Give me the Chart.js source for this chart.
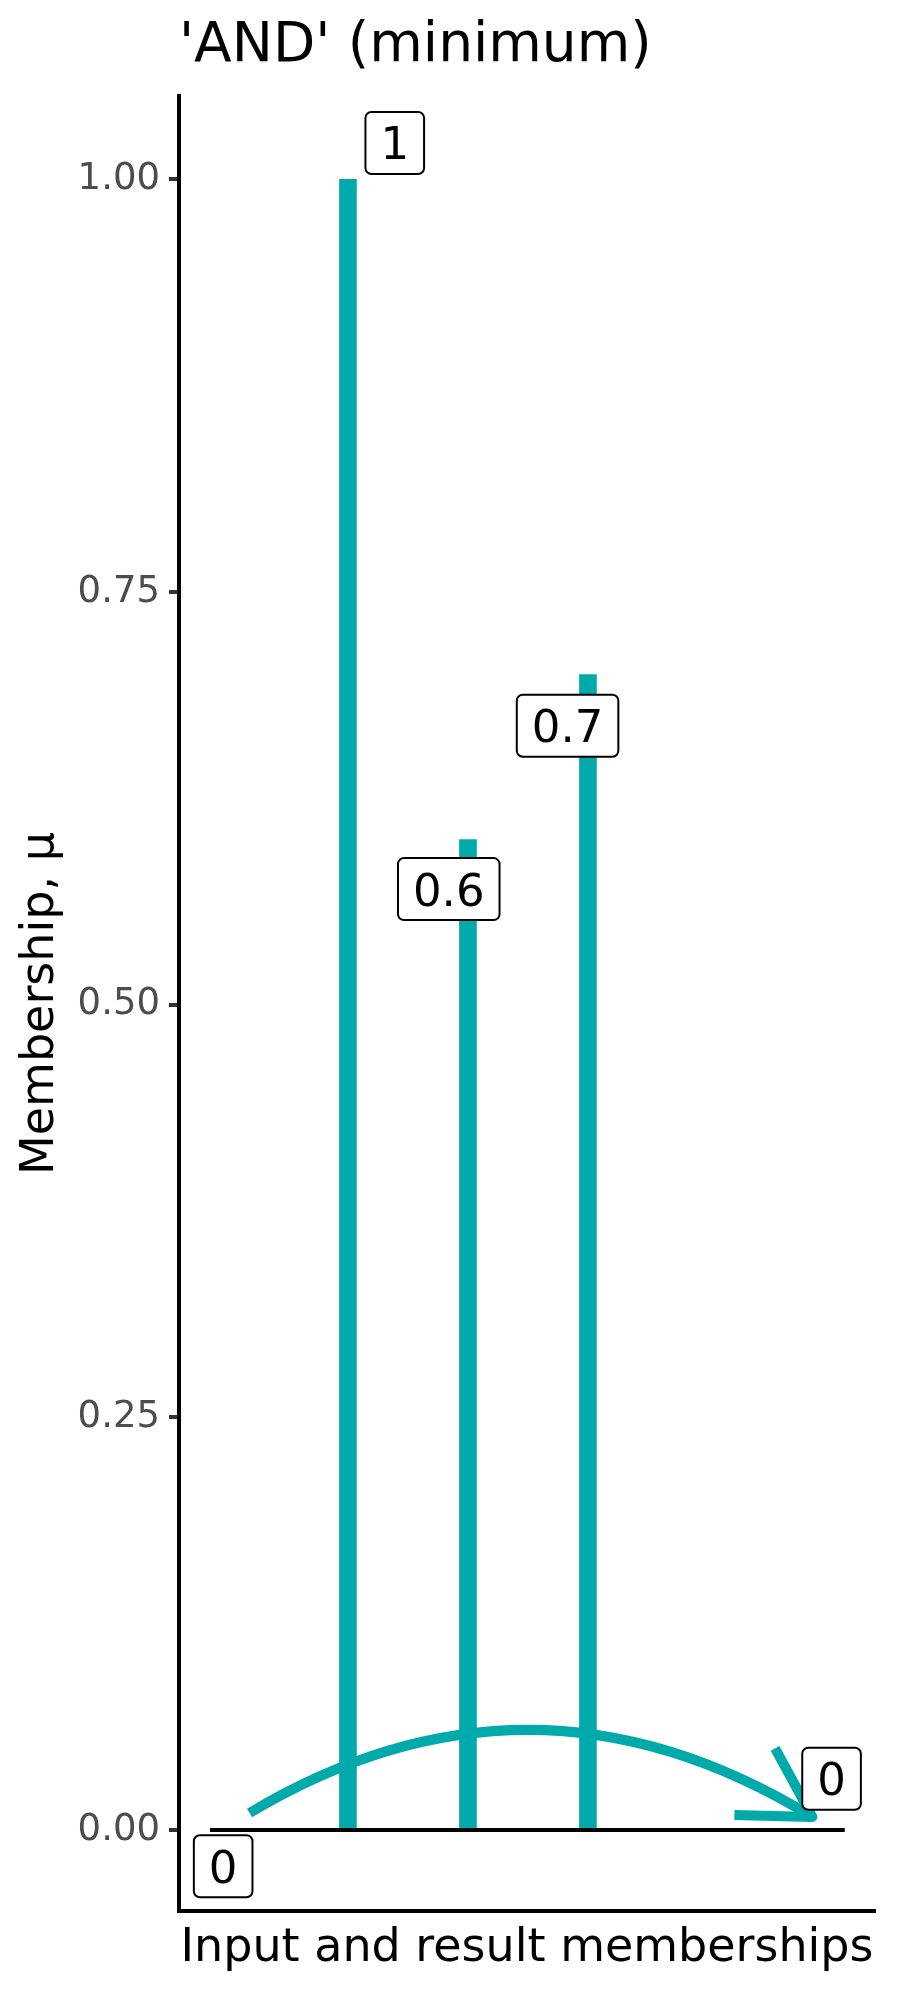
<!DOCTYPE html>
<html>
<head>
<meta charset="utf-8">
<script src="https://cdn.jsdelivr.net/npm/chart.js@4.4.0/dist/chart.umd.min.js"></script>
<style>
  body { margin: 0; background: #fff; }
</style>
</head>
<body>
<canvas id="chart" width="900" height="2000"></canvas>
<script>
// membership values: three inputs, result sits at x = 5 with value 0
const barX = [1, 2, 3];
const barValues = [1, 0.6, 0.7];
const yTicks = [0, 0.25, 0.5, 0.75, 1];
const baselineX = [-0.15, 5.14];

// repelled labels (text, where the box centre sits)
const labelText = ['0', '1', '0.6', '0.7', '0'];
const labelX = [-0.04, 1.39, 1.84, 2.83, 5.03];
const labelY = [-0.022, 1.022, 0.57, 0.669, 0.031];

// curved arrow from the inputs to the result
const arrowFrom = [0.18, 0.0103];
const arrowTo = [4.87, 0.0079];
const arrowPeak = 0.0606;

const teal = '#00aaaa';
const fontFamily = "'DejaVu Sans', sans-serif";

const annotations = {
    id: 'annotations',
    afterDatasetsDraw(chart) {
        const { ctx } = chart;
        const xs = chart.scales.x;
        const ys = chart.scales.y;

        // curve, as a quadratic through the peak
        const p0 = { x: xs.getPixelForValue(arrowFrom[0]), y: ys.getPixelForValue(arrowFrom[1]) };
        const p2 = { x: xs.getPixelForValue(arrowTo[0]), y: ys.getPixelForValue(arrowTo[1]) };
        const peakY = ys.getPixelForValue(arrowPeak);
        const c = { x: (p0.x + p2.x) / 2, y: 2 * peakY - (p0.y + p2.y) / 2 };

        ctx.save();
        ctx.strokeStyle = teal;
        ctx.lineWidth = 10;
        ctx.lineCap = 'butt';
        ctx.lineJoin = 'round';
        ctx.beginPath();
        ctx.moveTo(p0.x, p0.y);
        ctx.quadraticCurveTo(c.x, c.y, p2.x, p2.y);
        ctx.stroke();

        // open arrow head
        const ang = Math.atan2(p2.y - c.y, p2.x - c.x);
        const headLen = 78;
        const half = Math.PI / 6;
        ctx.beginPath();
        ctx.moveTo(p2.x - headLen * Math.cos(ang - half), p2.y - headLen * Math.sin(ang - half));
        ctx.lineTo(p2.x, p2.y);
        ctx.lineTo(p2.x - headLen * Math.cos(ang + half), p2.y - headLen * Math.sin(ang + half));
        ctx.stroke();
        ctx.restore();

        // label boxes
        ctx.save();
        ctx.font = '45px ' + fontFamily;
        ctx.textAlign = 'center';
        ctx.textBaseline = 'alphabetic';
        labelText.forEach((txt, i) => {
            const cx = xs.getPixelForValue(labelX[i]);
            const cy = ys.getPixelForValue(labelY[i]);
            const w = ctx.measureText(txt).width + 30;
            const h = 62;
            const r = 6;
            const x0 = cx - w / 2, y0 = cy - h / 2;
            ctx.beginPath();
            ctx.moveTo(x0 + r, y0);
            ctx.lineTo(x0 + w - r, y0);
            ctx.arcTo(x0 + w, y0, x0 + w, y0 + r, r);
            ctx.lineTo(x0 + w, y0 + h - r);
            ctx.arcTo(x0 + w, y0 + h, x0 + w - r, y0 + h, r);
            ctx.lineTo(x0 + r, y0 + h);
            ctx.arcTo(x0, y0 + h, x0, y0 + h - r, r);
            ctx.lineTo(x0, y0 + r);
            ctx.arcTo(x0, y0, x0 + r, y0, r);
            ctx.closePath();
            ctx.fillStyle = '#ffffff';
            ctx.fill();
            ctx.lineWidth = 2;
            ctx.strokeStyle = '#000000';
            ctx.stroke();
            ctx.fillStyle = '#000000';
            ctx.fillText(txt, cx, cy + 45 * 0.3645);
        });
        ctx.restore();
    }
};

const ctx = document.getElementById('chart').getContext('2d');
new Chart(ctx, {
    type: 'scatter',
    data: {
        datasets: [
            {
                type: 'line',
                data: baselineX.map(v => ({ x: v, y: 0 })),
                borderColor: '#000000',
                borderWidth: 4,
                pointRadius: 0,
                fill: false,
            },
            {
                type: 'bar',
                data: barX.map((v, i) => ({ x: v, y: barValues[i] })),
                backgroundColor: teal,
                borderWidth: 0,
                barThickness: 17,
            },
        ],
    },
    options: {
        responsive: false,
        animation: false,
        layout: { padding: { left: 0, right: 25, top: 0, bottom: 0 } },
        plugins: {
            legend: { display: false },
            tooltip: { enabled: false },
            title: {
                display: true,
                text: "'AND' (minimum)",
                align: 'start',
                fullSize: false,
                color: '#000000',
                font: { family: fontFamily, size: 55, weight: 'normal' },
                padding: { top: 14, bottom: 16 },
            },
        },
        scales: {
            x: {
                type: 'linear',
                offset: false,
                min: -0.408,
                max: 5.392,
                grid: { display: false, drawTicks: false },
                ticks: { display: false },
                border: { display: true, color: '#000000', width: 4 },
                title: {
                    display: true,
                    text: 'Input and result memberships',
                    color: '#000000',
                    font: { family: fontFamily, size: 46 },
                    padding: { top: 0, bottom: 23 },
                },
                afterFit(scale) { scale.height = 89; },
            },
            y: {
                min: -0.0491,
                max: 1.0505,
                afterBuildTicks(scale) { scale.ticks = yTicks.map(v => ({ value: v })); },
                grid: {
                    drawOnChartArea: false,
                    drawTicks: true,
                    tickLength: 10,
                    tickColor: '#333333',
                    lineWidth: 4,
                },
                ticks: {
                    color: '#4d4d4d',
                    padding: 9,
                    font: { family: fontFamily, size: 37 },
                    callback: v => Number(v).toFixed(2),
                },
                border: { display: true, color: '#000000', width: 4 },
                title: {
                    display: true,
                    text: 'Membership, μ',
                    color: '#000000',
                    font: { family: fontFamily, size: 46 },
                    padding: { top: 13, bottom: 0 },
                },
                afterFit(scale) { scale.width = 179; },
            },
        },
    },
    plugins: [annotations],
});
</script>
</body>
</html>
